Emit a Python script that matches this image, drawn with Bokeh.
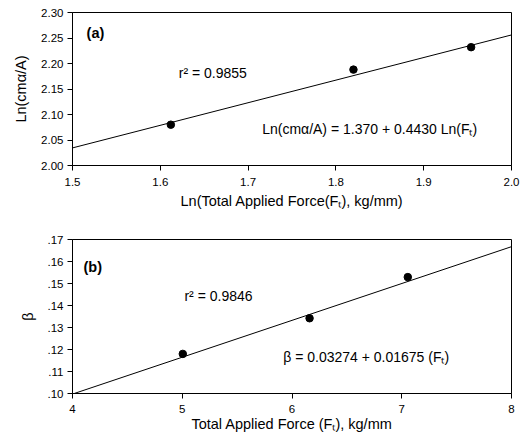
from bokeh.plotting import figure
from bokeh.layouts import column
from bokeh.models import FixedTicker, Label, Slope, ColumnDataSource
from bokeh.embed import file_html
from bokeh.resources import INLINE

FONT = "Liberation Sans"

# Panel (a)
a_x = [1.612, 1.820, 1.954]
a_y = [2.080, 2.188, 2.232]
a_intercept = 1.370
a_slope = 0.4430
a_xticks = [1.5, 1.6, 1.7, 1.8, 1.9, 2.0]
a_yticks = [2.00, 2.05, 2.10, 2.15, 2.20, 2.25, 2.30]
a_r2 = "r² = 0.9855"
a_eq = "Ln(cmα/A) = 1.370 + 0.4430 Ln(Fₜ)"

# Panel (b)
b_x = [5.005, 6.160, 7.055]
b_y = [0.1180, 0.1342, 0.1529]
b_intercept = 0.03274
b_slope = 0.01675
b_xticks = [4, 5, 6, 7, 8]
b_yticks = [0.10, 0.11, 0.12, 0.13, 0.14, 0.15, 0.16, 0.17]
b_ylabels = [".10", ".11", ".12", ".13", ".14", ".15", ".16", ".17"]
b_r2 = "r² = 0.9846"
b_eq = "β = 0.03274 + 0.01675 (Fₜ)"


def style(p, xlabel, ylabel, x_tick_standoff, x_label_standoff, y_label_standoff):
    p.outline_line_color = "black"
    p.outline_line_width = 1
    p.xgrid.grid_line_color = None
    p.ygrid.grid_line_color = None
    for ax in (p.xaxis[0], p.yaxis[0]):
        ax.axis_line_color = "black"
        ax.major_tick_line_color = "black"
        ax.minor_tick_line_color = None
        ax.major_tick_in = 0
        ax.major_tick_out = 5
        ax.major_label_text_font = FONT
        ax.major_label_text_font_size = "11.5px"
        ax.major_label_text_color = "black"
        ax.axis_label_text_font = FONT
        ax.axis_label_text_font_size = "14.5px"
        ax.axis_label_text_font_style = "normal"
        ax.axis_label_text_color = "black"
    p.xaxis.axis_label = xlabel
    p.yaxis.axis_label = ylabel
    p.xaxis.major_label_standoff = x_tick_standoff
    p.xaxis.axis_label_standoff = x_label_standoff
    p.yaxis.major_label_standoff = 4
    p.yaxis.axis_label_standoff = y_label_standoff


def label(p, x, y, text, bold=False):
    p.add_layout(Label(x=x, y=y, text=text, text_font=FONT,
                       text_font_size="14.5px" if bold else "14px",
                       text_font_style="bold" if bold else "normal",
                       text_baseline="middle", text_align="left", text_color="black"))


p1 = figure(width=530, height=222, x_range=(1.5, 2.0), y_range=(2.0, 2.3),
            output_backend="svg", toolbar_location=None,
            min_border_left=72, min_border_right=19, min_border_top=12, min_border_bottom=57)
style(p1, "Ln(Total Applied Force(Fₜ), kg/mm)", "Ln(cmα/A)", 7, 4, 9)
p1.xaxis.ticker = FixedTicker(ticks=a_xticks)
p1.yaxis.ticker = FixedTicker(ticks=a_yticks)
p1.xaxis.major_label_overrides = {t: f"{t:.1f}" for t in a_xticks}
p1.yaxis.major_label_overrides = {t: f"{t:.2f}" for t in a_yticks}
p1.add_layout(Slope(gradient=a_slope, y_intercept=a_intercept, line_color="black", line_width=1))
p1.scatter(x="x", y="y", source=ColumnDataSource(dict(x=a_x, y=a_y)), size=7.5,
           fill_color="black", line_color="black")
label(p1, 1.516, 2.259, "(a)", bold=True)
label(p1, 1.621, 2.182, a_r2)
label(p1, 1.716, 2.0725, a_eq)

p2 = figure(width=530, height=223, x_range=(4, 8), y_range=(0.10, 0.17),
            output_backend="svg", toolbar_location=None,
            min_border_left=72, min_border_right=19, min_border_top=17, min_border_bottom=52)
style(p2, "Total Applied Force (Fₜ), kg/mm", "β", 6, 0, 9)
p2.xaxis.ticker = FixedTicker(ticks=b_xticks)
p2.yaxis.ticker = FixedTicker(ticks=b_yticks)
p2.yaxis.major_label_overrides = dict(zip(b_yticks, b_ylabels))
p2.add_layout(Slope(gradient=b_slope, y_intercept=b_intercept, line_color="black", line_width=1))
p2.scatter(x="x", y="y", source=ColumnDataSource(dict(x=b_x, y=b_y)), size=7.5,
           fill_color="black", line_color="black")
label(p2, 4.10, 0.1573, "(b)", bold=True)
label(p2, 5.02, 0.1445, b_r2)
label(p2, 5.92, 0.1164, b_eq)

layout = column(p1, p2, spacing=0)
open("out.html", "w").write(file_html(layout, INLINE))
